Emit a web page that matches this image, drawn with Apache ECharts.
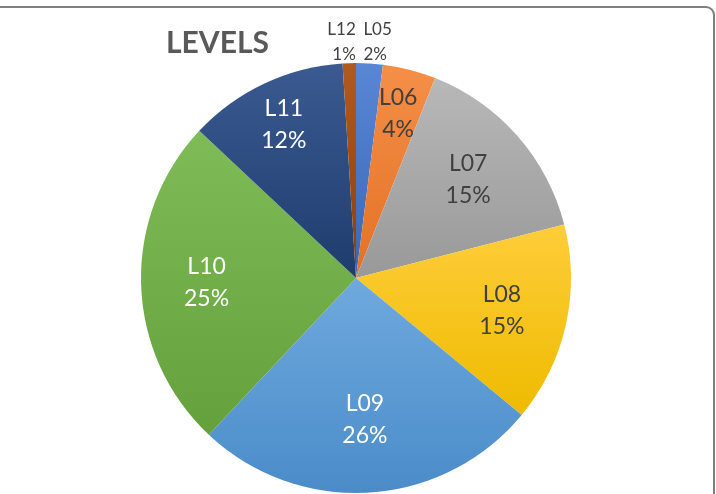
<!DOCTYPE html>
<html>
<head>
<meta charset="utf-8">
<script src="https://cdn.jsdelivr.net/npm/echarts@6/dist/echarts.min.js"></script>
<style>
html, body { margin: 0; padding: 0; background: #ffffff; }
#box { width: 716px; height: 494px; }
</style>
</head>
<body>
<div id="box"></div>
<script>
// 数据
const levels = ["L05", "L06", "L07", "L08", "L09", "L10", "L11", "L12"]
const shares = [2, 4, 15, 15, 26, 25, 12, 1]
const lightColors = ["#5a86d6", "#f58f48", "#b8b8b8", "#ffcd3a", "#6fa9de", "#7fbc57", "#3a5a91", "#b05a20"]
const darkColors = ["#3a66b6", "#e37125", "#999999", "#eebb00", "#4a8cc9", "#64a03c", "#1f3c6d", "#8e3d08"]
const labelColors = ["#404040", "#404040", "#404040", "#404040", "#ffffff", "#ffffff", "#ffffff", "#404040"]
const outsideLabels = ["L05", "L12"]

const font = "Lato, 'Open Sans', sans-serif"
const center = [356, 278]
const radius = 215

function grad(i) {
	return new echarts.graphic.LinearGradient(0, 0, 0, 1, [
		{ offset: 0, color: lightColors[i] },
		{ offset: 1, color: darkColors[i] },
	])
}

// 内部标签层（透明饼图，只用来放标签）
function labelRing(r0, names) {
	return {
		type: "pie",
		center: center,
		radius: [r0, radius],
		startAngle: 90,
		clockwise: true,
		silent: true,
		percentPrecision: 0,
		itemStyle: { color: "transparent", borderWidth: 0 },
		labelLine: { show: false },
		data: levels.map((name, i) => ({
			name: name,
			value: shares[i],
			label: {
				show: names.includes(name),
				position: "inside",
				formatter: "{b}\n{d}%",
				fontFamily: font,
				fontSize: 23,
				lineHeight: 32,
				color: labelColors[i],
			},
		})),
	}
}

let myCharts = echarts.init(document.getElementById("box"))
let option = {
	animation: false,
	title: {
		text: "LEVELS",
		left: 161,
		top: 23,
		textStyle: {
			fontFamily: font,
			fontSize: 30,
			fontWeight: "bold",
			color: "#595959",
		},
	},
	graphic: [
		{
			type: "rect",
			shape: { x: -20, y: 7, width: 734, height: 520, r: 8 },
			style: { fill: "none", stroke: "#7f7f7f", lineWidth: 2 },
			silent: true,
		},
	],
	series: [
		{
			// 饼图本体 + 外部小标签
			type: "pie",
			center: center,
			radius: [0, radius],
			startAngle: 90,
			clockwise: true,
			percentPrecision: 0,
			itemStyle: { borderWidth: 0 },
			labelLine: { show: false, length: 14, length2: 2 },
			labelLayout: function(params) {
				if (params.dataIndex === 0) return { dx: -14, dy: -7, hideOverlap: false }
				if (params.dataIndex === 7) return { dx: 14, dy: -7, hideOverlap: false }
				return {}
			},
			data: levels.map((name, i) => ({
				name: name,
				value: shares[i],
				itemStyle: { color: grad(i) },
				label: {
					show: outsideLabels.includes(name),
					position: "outside",
					formatter: "{b}\n{d}%",
					fontFamily: font,
					fontSize: 17,
					lineHeight: 25,
					color: "#404040",
					align: "center",
				},
			})),
		},
		labelRing(78, ["L07", "L08", "L10"]),
		labelRing(62, ["L09"]),
		labelRing(118, ["L06", "L11"]),
	],
}
myCharts.setOption(option)
</script>
</body>
</html>
